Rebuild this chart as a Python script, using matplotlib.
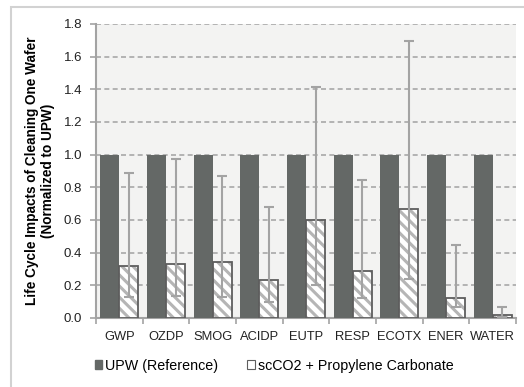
import matplotlib
matplotlib.use("Agg")
import matplotlib.pyplot as plt
import numpy as np
from matplotlib.patches import Patch, Rectangle

plt.rcParams["font.family"] = ["Liberation Sans", "DejaVu Sans"]
plt.rcParams["hatch.linewidth"] = 2.2

categories = ["GWP", "OZDP", "SMOG", "ACIDP", "EUTP", "RESP", "ECOTX", "ENER", "WATER"]
upw = [1.0, 1.0, 1.0, 1.0, 1.0, 1.0, 1.0, 1.0, 1.0]
sc_co2 = [0.32, 0.33, 0.34, 0.23, 0.60, 0.29, 0.67, 0.12, 0.02]
sc_low = [0.13, 0.135, 0.13, 0.10, 0.205, 0.12, 0.24, 0.07, 0.005]
sc_high = [0.885, 0.975, 0.87, 0.68, 1.415, 0.845, 1.695, 0.445, 0.07]
yticks = [0.0, 0.2, 0.4, 0.6, 0.8, 1.0, 1.2, 1.4, 1.6, 1.8]

dark = "#646866"
axis_grey = "#a3a3a3"

fig = plt.figure(figsize=(5.24, 3.87), dpi=100)
ax = fig.add_axes([96/524, 1-318/387, 420/524, 294/387])
ax.set_facecolor("#f3f3f2")

x = np.arange(len(categories))
w = 0.41
ax.bar(x - w/2, upw, w, color=dark, zorder=3)
# hatched bars: light hatch, dark outline
ax.bar(x + w/2, sc_co2, w, color="white", edgecolor="#b5b5b5", hatch="\\\\\\", lw=0, zorder=3)
ax.bar(x + w/2, sc_co2, w, fill=False, edgecolor="#5e5e5e", lw=1.3, zorder=4)
err = [np.array(sc_co2) - np.array(sc_low), np.array(sc_high) - np.array(sc_co2)]
ax.errorbar(x + w/2, sc_co2, yerr=err, fmt="none", ecolor=axis_grey, elinewidth=1.5,
            capsize=3.5, capthick=1.5, zorder=5)

ax.set_xlim(-0.5, len(categories) - 0.5)
ax.set_ylim(0, 1.8)
ax.set_yticks(yticks)
ax.set_yticklabels([f"{t:.1f}" for t in yticks], fontsize=9.5, color="#222222")
ax.set_xticks(x)
ax.set_xticklabels(categories, fontsize=9.3, color="#222222")
ax.tick_params(axis="x", length=0, pad=9)
ax.tick_params(axis="y", length=4, color=axis_grey, width=1.2, pad=6)
ax.set_xticks(np.arange(-0.5, len(categories), 1), minor=True)
ax.tick_params(axis="x", which="minor", length=4, color=axis_grey, width=1.2)
ax.yaxis.grid(True, color="#a8a8a8", linestyle=(0, (3, 2)), lw=1.2, zorder=0)
ax.set_axisbelow(True)
for s in ["top", "right"]:
    ax.spines[s].set_visible(False)
for s in ["left", "bottom"]:
    ax.spines[s].set_color(axis_grey)
    ax.spines[s].set_linewidth(1.5)

ax.set_ylabel("Life Cycle Impacts of Cleaning One Wafer\n(Normalized to UPW)",
              fontsize=9.8, fontweight="bold", labelpad=6)

handles = [Patch(facecolor=dark, edgecolor=dark),
           Patch(facecolor="white", edgecolor="#5e5e5e", lw=0.8)]
fig.legend(handles, ["UPW (Reference)", "scCO2 + Propylene Carbonate"],
           loc="center", bbox_to_anchor=(274/524, 1-366/387), ncol=2, frameon=False,
           fontsize=10.3, handlelength=0.55, handleheight=0.6, handletextpad=0.2,
           columnspacing=2.0)

fig.add_artist(Rectangle((11/524, -0.02), 1.0, 1-7/387+0.02, transform=fig.transFigure,
                         fill=False, edgecolor="#d2d2d2", lw=1.5))

fig.savefig("out.png", dpi=100)
